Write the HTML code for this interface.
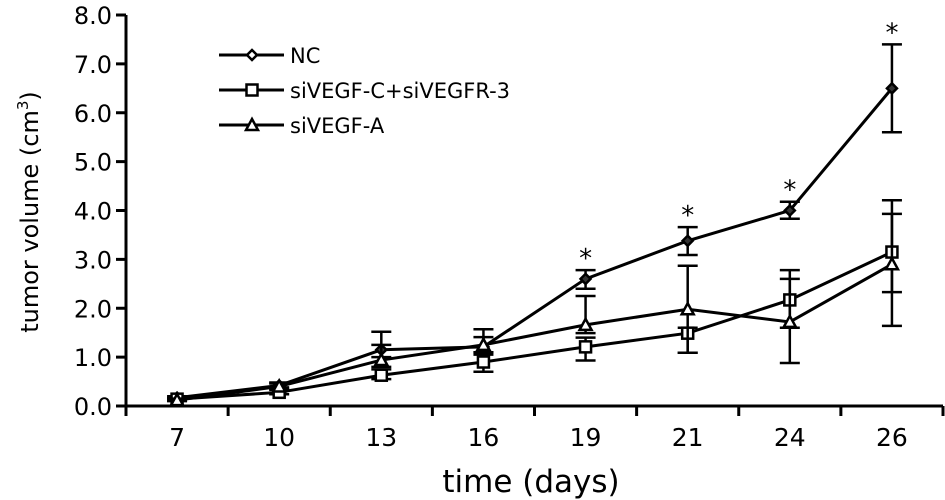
<!DOCTYPE html>
<html><head><meta charset="utf-8"><style>body{margin:0;background:#fff}svg{display:block;font-family:"DejaVu Sans","Liberation Sans",sans-serif}</style></head>
<body>
<svg id="chart" width="945" height="500"></svg>
<script>
const categories=["7","10","13","16","19","21","24","26"];
const yTicks=[0,1,2,3,4,5,6,7,8];
const ncVals=[0.17,0.42,1.15,1.21,2.6,3.38,4.0,6.5];
const ncUp=[0.2,0.48,1.52,1.57,2.78,3.66,4.18,7.4];
const ncLo=[0.15,0.38,1.0,1.05,2.4,3.09,3.83,5.6];
const sqVals=[0.14,0.28,0.63,0.9,1.21,1.49,2.17,3.15];
const sqUp=[0.17,0.33,0.75,1.1,1.4,1.6,2.78,4.21];
const sqLo=[0.11,0.24,0.55,0.7,0.93,1.09,1.6,2.33];
const trVals=[0.12,0.4,0.94,1.25,1.66,1.98,1.72,2.9];
const trUp=[0.15,0.46,1.25,1.41,2.25,2.87,2.6,3.93];
const trLo=[0.1,0.35,0.8,1.1,1.49,1.09,0.88,1.64];
const starIdx=[4,5,6,7];
const NS="http://www.w3.org/2000/svg";
const svg=document.getElementById('chart');
const X0=126,X1=943,Y0=406,Y8=15;
const band=(X1-X0)/categories.length;
const xs=i=>X0+band*(i+0.5);
const ys=v=>Y0-(Y0-Y8)*v/8;
function mk(t,a,p){const e=document.createElementNS(NS,t);for(const k in a)e.setAttribute(k,a[k]);(p||svg).appendChild(e);return e;}
const ax=mk('g',{stroke:'#000','stroke-width':3,fill:'none'});


mk('line',{x1:X0,y1:Y8,x2:X0,y2:Y0},ax);
mk('line',{x1:X0,y1:Y0,x2:X1,y2:Y0},ax);
yTicks.forEach(v=>{mk('line',{x1:X0-10,y1:ys(v),x2:X0,y2:ys(v)},ax);
const t=mk('text',{x:X0-14,y:ys(v)+9,'text-anchor':'end','font-size':24});t.textContent=v.toFixed(1);

});
for(let i=0;i<=categories.length;i++)mk('line',{x1:X0+band*i,y1:Y0,x2:X0+band*i,y2:Y0+10},ax);
categories.forEach((c,i)=>{const t=mk('text',{x:xs(i),y:446,'text-anchor':'middle','font-size':25});t.textContent=c;

});
const xt=mk('text',{x:531,y:492,'text-anchor':'middle','font-size':31});xt.textContent='time (days)';


const yt=mk('text',{x:0,y:0,'text-anchor':'middle','font-size':24,transform:'translate(38,212) rotate(-90)'});
yt.innerHTML='tumor volume (cm<tspan font-size="15" dy="-10">3</tspan><tspan dy="10">)</tspan>';


function marker(g,type,x,y,fill){
 if(type==='d')mk('path',{d:`M${x} ${y-5}L${x+5} ${y}L${x} ${y+5}L${x-5} ${y}Z`,fill:fill||'#fff',stroke:'#000','stroke-width':2.5},g);
 else if(type==='s')mk('rect',{x:x-5.5,y:y-5.5,width:11,height:11,fill:'#fff',stroke:'#000','stroke-width':2.5},g);
 else mk('path',{d:`M${x} ${y-6}L${x+6} ${y+5}L${x-6} ${y+5}Z`,fill:'#fff',stroke:'#000','stroke-width':2.5},g);
}
function series(name,vals,up,lo,type){
 const g=mk('g',{});
 
 
 vals.forEach((v,i)=>{const x=xs(i);
  mk('line',{x1:x,y1:ys(up[i]),x2:x,y2:ys(lo[i]),stroke:'#000','stroke-width':2.5},g);
  [up[i],lo[i]].forEach(e=>mk('line',{x1:x-10,y1:ys(e),x2:x+10,y2:ys(e),stroke:'#000','stroke-width':2.5},g));});
 mk('polyline',{points:vals.map((v,i)=>xs(i)+','+ys(v)).join(' '),fill:'none',stroke:'#000','stroke-width':3},g);
 vals.forEach((v,i)=>marker(g,type,xs(i),ys(v),'#333'));
}
series('series-nc',ncVals,ncUp,ncLo,'d');
series('series-sivegf-c-sivegfr-3',sqVals,sqUp,sqLo,'s');
series('series-sivegf-a',trVals,trUp,trLo,'t');
starIdx.forEach(i=>{const t=mk('text',{x:xs(i),y:ys(ncUp[i])-3,'text-anchor':'middle','font-size':26});t.textContent='*';

});
const legend=[['NC','d'],['siVEGF-C+siVEGFR-3','s'],['siVEGF-A','t']];
legend.forEach((l,k)=>{const y=55+k*35;const g=mk('g',{});
 
 
 mk('line',{x1:219,y1:y,x2:284,y2:y,stroke:'#000','stroke-width':3},g);
 marker(g,l[1],252,y);
 const t=mk('text',{x:290,y:y+8,'font-size':21},g);t.textContent=l[0];});
</script>
</body></html>
